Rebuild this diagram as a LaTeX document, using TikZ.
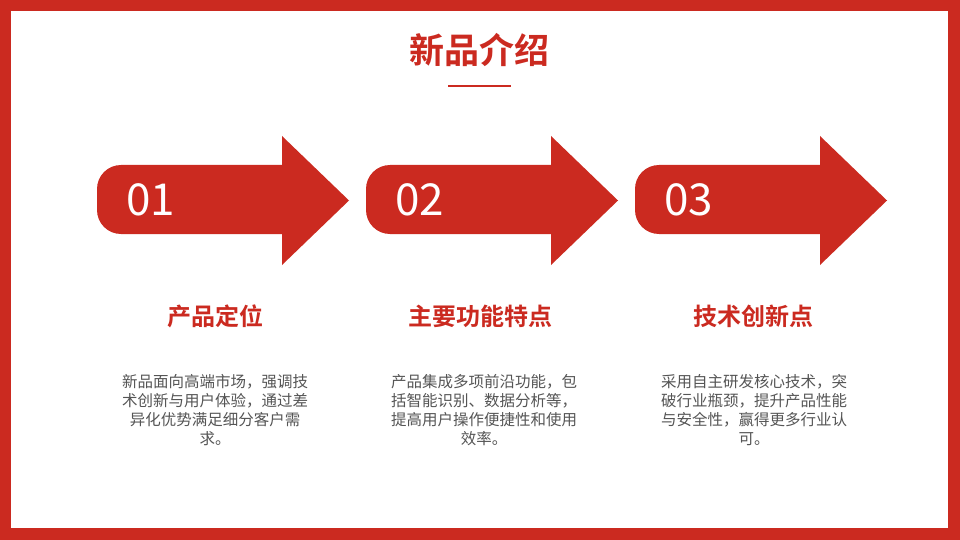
\documentclass[tikz,border=0pt]{standalone}
\usepackage{fontspec}
\setmainfont{Noto Sans CJK SC}
\newfontfamily\cjkb{Noto Sans CJK SC Bold}
\definecolor{mainred}{HTML}{CB2A20}
\definecolor{bodygray}{HTML}{555555}
\begin{document}
\begin{tikzpicture}[x=1pt,y=-1pt,
  arrowshape/.style={fill=mainred},
  numtext/.style={text=white,font=\fontsize{44}{44}\selectfont,anchor=west,inner sep=0pt},
  headtext/.style={text=mainred,font=\cjkb\fontsize{24}{24}\selectfont,inner sep=0pt},
  bodytext/.style={text=bodygray,font=\fontsize{15.5}{19}\selectfont,align=center,inner sep=0pt,anchor=north}]
\useasboundingbox (0,0) rectangle (960,540);
% frame
\fill[mainred] (0,0) rectangle (960,540);
\fill[white] (11,11) rectangle (948,528);
% title
\node[text=mainred,font=\cjkb\fontsize{35}{35}\selectfont,inner sep=0pt] (title) at (479,50) {新品介绍};
\coordinate (ulA) at (448,86);
\coordinate (ulB) at (511,86);
\draw[mainred,line width=2pt] (ulA) -- (ulB);
% arrows
\foreach \L/\n in {97/01,366/02,635/03}{
  \fill[arrowshape,rounded corners=24pt] (\L+100,234) -- (\L,234) -- (\L,165) -- (\L+100,165)
    [sharp corners] -- (\L+185,165) -- (\L+185,136) -- (\L+252,200.5) -- (\L+185,265) -- (\L+185,234) -- cycle;
  \node[numtext] (num\n) at (\L+29,200) {\n};
}
% headings
\node[headtext] (h1) at (215,316) {产品定位};
\node[headtext] (h2) at (480,316) {主要功能特点};
\node[headtext] (h3) at (753,316) {技术创新点};
% body
\node[bodytext] (b1) at (215,374) {新品面向高端市场，强调技\\术创新与用户体验，通过差\\异化优势满足细分客户需\\求。};
\node[bodytext] (b2) at (484,374) {产品集成多项前沿功能，包\\括智能识别、数据分析等，\\提高用户操作便捷性和使用\\效率。};
\node[bodytext] (b3) at (754,374) {采用自主研发核心技术，突\\破行业瓶颈，提升产品性能\\与安全性，赢得更多行业认\\可。};
\end{tikzpicture}
\end{document}
